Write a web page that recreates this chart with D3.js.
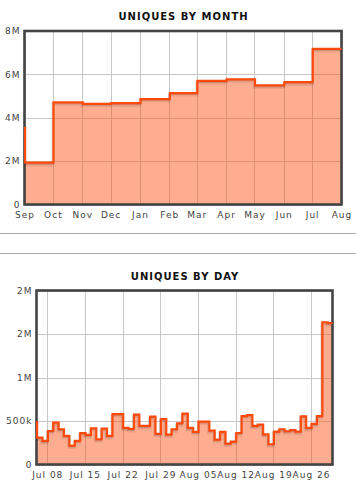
<!DOCTYPE html>
<html>
<head>
<meta charset="utf-8">
<script src="https://cdn.jsdelivr.net/npm/d3@7"></script>
<style>
  html, body { margin: 0; padding: 0; background: #fff; }
  svg { display: block; }
  text { font-family: "DejaVu Sans", Verdana, sans-serif; }
</style>
</head>
<body>
<svg id="chart" width="356" height="491"></svg>
<script>
// ---------- DATA ----------
// Monthly uniques (step-before: each value covers the interval ending at its date)
const monthDates = ["2011-09-01","2011-10-01","2011-11-01","2011-12-01","2012-01-01","2012-02-01",
                    "2012-03-01","2012-04-01","2012-05-01","2012-06-01","2012-07-01","2012-08-01"];
const monthValues = [3580000, 1930000, 4710000, 4640000, 4670000, 4860000,
                     5140000, 5700000, 5770000, 5490000, 5640000, 7180000];
const monthTickDates = ["2011-09-01","2011-10-01","2011-11-01","2011-12-01","2012-01-01","2012-02-01",
                        "2012-03-01","2012-04-01","2012-05-01","2012-06-01","2012-07-01","2012-08-01"];
const monthTickLabels = ["Sep","Oct","Nov","Dec","Jan","Feb","Mar","Apr","May","Jun","Jul","Aug"];
const monthYTicks = [0, 2000000, 4000000, 6000000, 8000000];
const monthYLabels = ["0","2M","4M","6M","8M"];

// Daily uniques, Jul 06 .. Aug 30 (step-before)
const dayStart = "2012-07-06";
const dayEnd = "2012-08-30";
const dayValues = [
  500000,
  310000, 271000, 385000, 481000, 405000, 328000, 218000, 271000, 362000, 340000,
  416000, 290000, 413000, 328000, 580000, 580000, 420000, 409000, 573000, 443000,
  443000, 550000, 351000, 523000, 344000,
  405000, 474000, 585000, 420000, 374000, 493000, 493000, 390000, 287000, 374000,
  241000, 264000, 362000, 557000, 569000, 443000, 459000, 347000, 233000, 378000,
  405000, 382000, 394000, 378000, 554000, 420000, 466000, 557000, 1635000, 1624000
];
const dayTickDates = ["2012-07-08","2012-07-15","2012-07-22","2012-07-29","2012-08-05","2012-08-12","2012-08-19","2012-08-26"];
const dayTickLabels = ["Jul 08","Jul 15","Jul 22","Jul 29","Aug 05","Aug 12","Aug 19","Aug 26"];
const dayYTicks = [0, 500000, 1000000, 1500000, 2000000];
const dayYLabels = ["0","500k","1M","2M","2M"];

// ---------- HELPERS ----------
const parse = d3.timeParse("%Y-%m-%d");
const svg = d3.select("#chart");

const LINE = "#ff4a0c";
const GRID = "#c8c8c8";
const BORDER = "#444";
const LABEL = "#444";

function drawChart(cfg) {
  const { title, titleY, left, right, top, bottom, dates, values, xTicks, xLabels, yTicks, yLabels, yMax, clipId } = cfg;
  const x = d3.scaleTime().domain([dates[0], dates[dates.length - 1]]).range([left, right]);
  const y = d3.scaleLinear().domain([0, yMax]).range([bottom, top]);
  const g = svg.append("g");

  g.append("text")
    .attr("x", (left + right) / 2 + 0.5).attr("y", titleY)
    .attr("text-anchor", "middle")
    .attr("font-size", "10px").attr("font-weight", "bold")
    .attr("letter-spacing", "1px")
    .attr("fill", "#111")
    .text(title);

  // gridlines
  const grid = g.append("g").attr("stroke", GRID).attr("stroke-width", 1);
  grid.selectAll("line.v").data(xTicks).join("line")
    .attr("x1", d => Math.round(x(d)) + 0.5).attr("x2", d => Math.round(x(d)) + 0.5)
    .attr("y1", top).attr("y2", bottom);
  grid.selectAll("line.h").data(yTicks).join("line")
    .attr("x1", left).attr("x2", right)
    .attr("y1", d => Math.round(y(d)) + 0.5).attr("y2", d => Math.round(y(d)) + 0.5);

  svg.append("clipPath").attr("id", clipId).append("rect")
    .attr("x", left - 0.6).attr("y", top).attr("width", right - left + 0.6).attr("height", bottom - top);

  const pts = dates.map((d, i) => [d, values[i]]);
  const area = d3.area().curve(d3.curveStepBefore)
    .x(d => x(d[0])).y0(y(0)).y1(d => y(d[1]));
  const line = d3.line().curve(d3.curveStepBefore)
    .x(d => x(d[0])).y(d => y(d[1]));

  const plot = g.append("g").attr("clip-path", `url(#${clipId})`);
  plot.append("path").datum(pts).attr("d", area)
    .attr("fill", LINE).attr("fill-opacity", 0.45);

  // border (under the line)
  g.append("rect")
    .attr("x", left).attr("y", top).attr("width", right - left).attr("height", bottom - top)
    .attr("fill", "none").attr("stroke", BORDER).attr("stroke-width", 2.6);

  const plot2 = g.append("g").attr("clip-path", `url(#${clipId})`);
  plot2.append("path").datum(pts).attr("d", line)
    .attr("transform", "translate(0,2)")
    .attr("fill", "none").attr("stroke", "rgba(0,0,0,0.08)").attr("stroke-width", 3);
  plot2.append("path").datum(pts).attr("d", line)
    .attr("transform", "translate(0,1)")
    .attr("fill", "none").attr("stroke", "rgba(0,0,0,0.12)").attr("stroke-width", 2);
  plot2.append("path").datum(pts).attr("d", line)
    .attr("transform", "translate(0.6,0)")
    .attr("fill", "none").attr("stroke", LINE).attr("stroke-width", 2.2)
    .attr("stroke-linejoin", "miter");

  // y labels
  g.selectAll("text.yl").data(yTicks).join("text")
    .attr("class", "yl")
    .attr("x", left - 4).attr("y", d => y(d) + 3.3)
    .attr("text-anchor", "end")
    .attr("font-size", "9px").attr("letter-spacing", "1px")
    .attr("fill", LABEL)
    .text((d, i) => yLabels[i]);

  // x labels
  g.selectAll("text.xl").data(xTicks).join("text")
    .attr("class", "xl")
    .attr("x", d => x(d) + 0.5).attr("y", bottom + 13)
    .attr("text-anchor", "middle")
    .attr("font-size", "9px").attr("letter-spacing", "1px")
    .attr("fill", LABEL)
    .text((d, i) => xLabels[i]);
}

// separators
[233.5, 253.5].forEach(yy => {
  svg.append("line").attr("x1", 0).attr("x2", 356).attr("y1", yy).attr("y2", yy)
    .attr("stroke", "#aaa").attr("stroke-width", 1);
});

drawChart({
  title: "UNIQUES BY MONTH", titleY: 19.5,
  left: 24.5, right: 341.5, top: 31, bottom: 204.5,
  dates: monthDates.map(parse), values: monthValues,
  xTicks: monthTickDates.map(parse), xLabels: monthTickLabels,
  yTicks: monthYTicks, yLabels: monthYLabels, yMax: 8000000, clipId: "clipM"
});

const dayDates = d3.timeDay.range(parse(dayStart), d3.timeDay.offset(parse(dayEnd), 1));
drawChart({
  title: "UNIQUES BY DAY", titleY: 279.5,
  left: 36.5, right: 332.5, top: 290.5, bottom: 464.5,
  dates: dayDates, values: dayValues,
  xTicks: dayTickDates.map(parse), xLabels: dayTickLabels,
  yTicks: dayYTicks, yLabels: dayYLabels, yMax: 2000000, clipId: "clipD"
});
</script>
</body>
</html>
